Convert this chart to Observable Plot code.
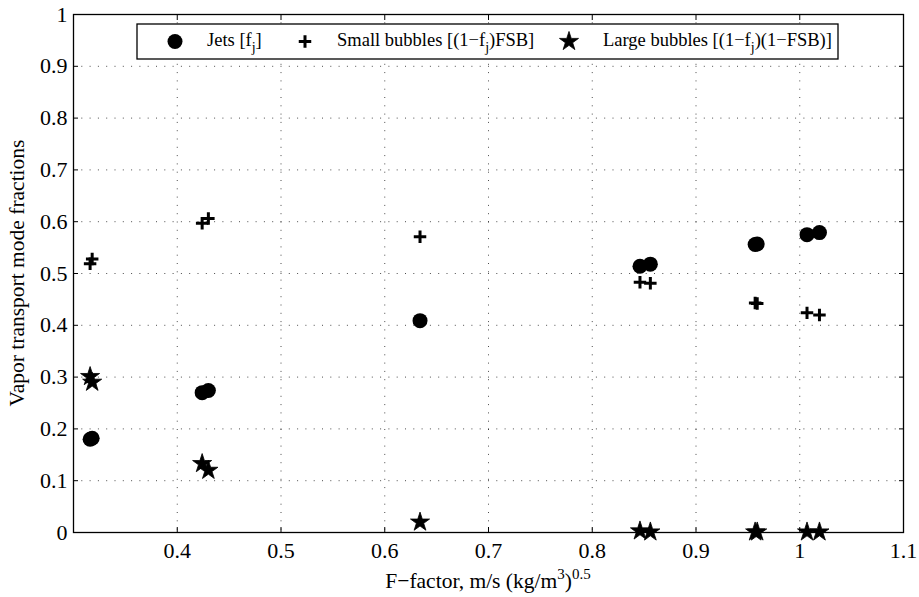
<!DOCTYPE html>
<html>
<head>
<meta charset="utf-8">
<script src="https://cdn.jsdelivr.net/npm/d3@7"></script>
<script src="https://cdn.jsdelivr.net/npm/@observablehq/plot@0.6"></script>
<style>
  html, body { margin: 0; padding: 0; background: #fff; }
  #chart svg { display: block; }
  #chart svg text { font-family: "Liberation Serif", "Times New Roman", serif; fill: #000; }
  #chart svg g[aria-label="x-axis tick label"], #chart svg g[aria-label="y-axis tick label"] { font-size: 22px; }
</style>
</head>
<body>
<div id="chart"></div>
<script>
// F-factor values (x)
const fFactor = [0.316, 0.318, 0.424, 0.430, 0.634, 0.846, 0.856, 0.957, 0.959, 1.007, 1.019];
// Jets [f_j]
const jets  = [0.180, 0.182, 0.270, 0.274, 0.409, 0.514, 0.518, 0.556, 0.557, 0.575, 0.579];
// Small bubbles [(1-f_j)FSB]
const small = [0.519, 0.528, 0.597, 0.606, 0.571, 0.483, 0.481, 0.443, 0.442, 0.424, 0.420];
// Large bubbles [(1-f_j)(1-FSB)]
const large = [0.301, 0.290, 0.133, 0.120, 0.020, 0.003, 0.001, 0.001, 0.001, 0.001, 0.001];

const xTicks = [0.4, 0.5, 0.6, 0.7, 0.8, 0.9, 1.0, 1.1];
const xTickLabels = ["0.4", "0.5", "0.6", "0.7", "0.8", "0.9", "1", "1.1"];
const yTicks = [0, 0.1, 0.2, 0.3, 0.4, 0.5, 0.6, 0.7, 0.8, 0.9, 1];
const yTickLabels = ["0", "0.1", "0.2", "0.3", "0.4", "0.5", "0.6", "0.7", "0.8", "0.9", "1"];

const rows = fFactor.map((f, i) => ({f, jets: jets[i], small: small[i], large: large[i]}));

const FONT = "Liberation Serif, Times New Roman, serif";
const gridStyle = {stroke: "#000", strokeOpacity: 0.7, strokeDasharray: "1,7.3", strokeWidth: 1};
const PLUS_R = 4.1, STAR_R = 6.0, DOT_R = 7.5;

const plot = Plot.plot({
  width: 919,
  height: 597,
  marginLeft: 73,
  marginRight: 16,
  marginTop: 14,
  marginBottom: 65,
  style: {fontFamily: FONT, background: "#fff", color: "#000"},
  x: {domain: [0.3, 1.1], label: null},
  y: {domain: [0, 1], label: null},
  marks: [
    Plot.gridX(xTicks, gridStyle),
    Plot.gridY(yTicks, gridStyle),
    Plot.axisX(xTicks, {anchor: "bottom", tickSize: 0, tickPadding: 10, fontSize: 22,
      tickFormat: d => xTickLabels[xTicks.indexOf(d)], label: null}),
    Plot.axisY(yTicks, {anchor: "left", tickSize: 0, tickPadding: 6, fontSize: 22,
      tickFormat: d => yTickLabels[yTicks.indexOf(d)], label: null}),
    Plot.axisX(xTicks, {anchor: "bottom", tickSize: -5, text: null, label: null}),
    Plot.axisX(xTicks, {anchor: "top", tickSize: -5, text: null, label: null}),
    Plot.axisY(yTicks, {anchor: "left", tickSize: -5, text: null, label: null}),
    Plot.axisY(yTicks, {anchor: "right", tickSize: -5, text: null, label: null}),
    Plot.frame({stroke: "#000", strokeWidth: 1.3}),
    Plot.dot(rows, {x: "f", y: "jets", r: DOT_R, fill: "#000", stroke: "none"}),
    Plot.dot(rows, {x: "f", y: "small", symbol: "plus", r: PLUS_R, stroke: "#000", strokeWidth: 3}),
    Plot.dot(rows, {x: "f", y: "large", symbol: "star", r: STAR_R, fill: "#000", stroke: "#000", strokeWidth: 0.8})
  ]
});

document.getElementById("chart").appendChild(plot);

// Legend, axis titles (with sub/superscripts) drawn on the same SVG
const svg = d3.select(plot);
const g = svg.append("g").attr("font-family", FONT).attr("fill", "#000").attr("text-anchor", "start");

// Legend box
const lg = g.append("g");
lg.append("rect").attr("x", 137).attr("y", 24).attr("width", 701).attr("height", 35)
  .attr("fill", "#fff").attr("stroke", "#000").attr("stroke-width", 1.3);
const ly = 41.5;
lg.append("circle").attr("cx", 175).attr("cy", ly).attr("r", DOT_R).attr("fill", "#000");
lg.append("path").attr("transform", `translate(305,${ly})`)
  .attr("d", d3.symbol(d3.symbolPlus, Math.PI * PLUS_R * PLUS_R)()).attr("stroke", "#000").attr("stroke-width", 3).attr("fill", "none");
lg.append("path").attr("transform", `translate(569,${ly})`)
  .attr("d", d3.symbol(d3.symbolStar, Math.PI * STAR_R * STAR_R)()).attr("fill", "#000").attr("stroke", "#000").attr("stroke-width", 0.8);

function subText(parent, x, y, parts, size, small, off) {
  const t = parent.append("text").attr("x", x).attr("y", y)
    .attr("text-anchor", "start").style("font-size", size + "px");
  let shift = 0;
  for (const [s, kind] of parts) {
    const target = kind === "sub" ? off : kind === "sup" ? -off : 0;
    const ts = t.append("tspan").text(s).attr("dy", target - shift);
    if (kind) ts.style("font-size", small + "px");
    shift = target;
  }
  return t;
}
subText(lg, 207, 46, [["Jets [f", null], ["j", "sub"], ["]", null]], 18.5, 14, 6);
subText(lg, 337, 46, [["Small bubbles [(1\u2212f", null], ["j", "sub"], [")FSB]", null]], 18.5, 14, 6);
subText(lg, 603, 46, [["Large bubbles [(1\u2212f", null], ["j", "sub"], [")(1\u2212FSB)]", null]], 18.5, 14, 6);

// X axis title
const xt = subText(g, 488, 588, [["F\u2212factor, m/s (kg/m", null], ["3", "sup"], [")", null], ["0.5", "sup"]], 21.5, 15, 9);
xt.attr("text-anchor", "middle");

// Y axis title
g.append("text").attr("transform", "translate(24,273) rotate(-90)")
  .attr("text-anchor", "middle").style("font-size", "21.5px")
  .text("Vapor transport mode fractions");
</script>
</body>
</html>
